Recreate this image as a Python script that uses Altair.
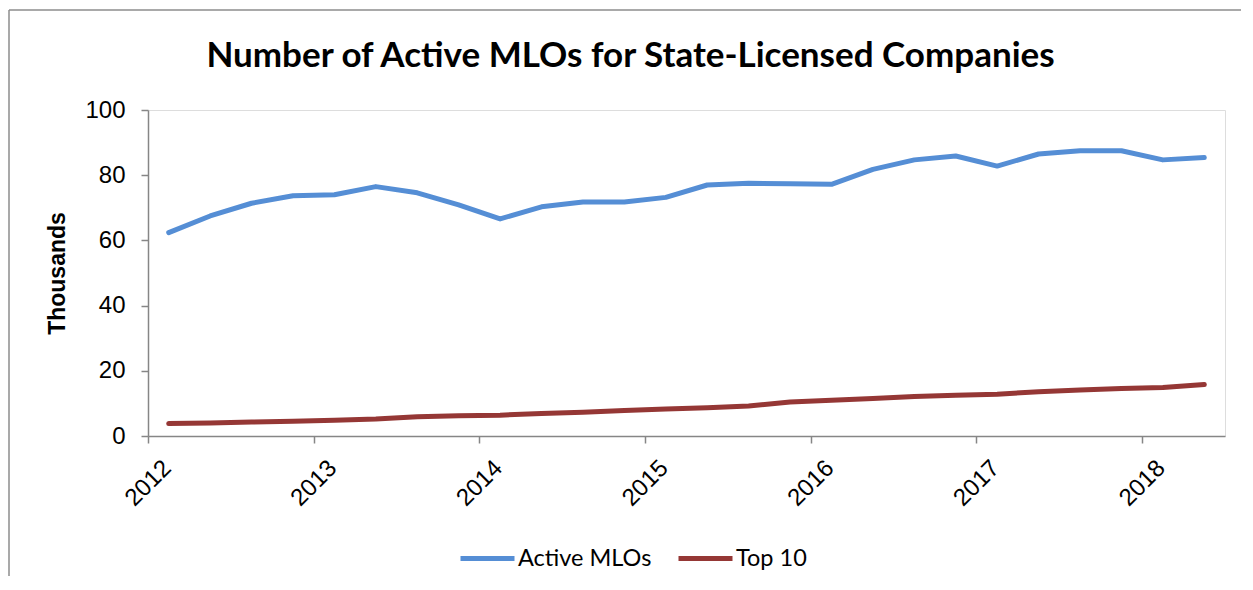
import altair as alt
import pandas as pd

# Quarterly data, 2012 Q1 .. 2018 Q2 (thousands)
quarters = [f"{y}Q{q}" for y in range(2012, 2019) for q in range(1, 5)][:26]
active_mlos = [62.4, 67.5, 71.4, 73.7, 74.0, 76.5, 74.6, 70.9, 66.6, 70.3,
               71.8, 71.8, 73.2, 77.0, 77.5, 77.4, 77.2, 81.8, 84.7, 85.9,
               82.8, 86.5, 87.5, 87.5, 84.7, 85.4]
top_10 = [3.8, 4.0, 4.3, 4.5, 4.8, 5.2, 5.9, 6.2, 6.4, 6.9,
          7.3, 7.8, 8.3, 8.7, 9.2, 10.4, 11.0, 11.5, 12.1, 12.5,
          12.8, 13.6, 14.1, 14.6, 14.9, 15.8]
series_names = ["Active MLOs", "Top 10"]
series_colors = ["#558ED5", "#953735"]
year_ticks = [0, 4, 8, 12, 16, 20, 24]
y_ticks = [0, 20, 40, 60, 80, 100]

rows = []
for i, q in enumerate(quarters):
    rows.append({"pos": i + 0.5, "quarter": q, "value": active_mlos[i], "series": series_names[0]})
    rows.append({"pos": i + 0.5, "quarter": q, "value": top_10[i], "series": series_names[1]})
df = pd.DataFrame(rows)

W, H = 1077, 326

lines = alt.Chart(df).mark_line(strokeWidth=5, strokeCap="round", strokeJoin="round").encode(
    x=alt.X("pos:Q",
            scale=alt.Scale(domain=[0, 26], nice=False, zero=False),
            axis=alt.Axis(values=year_ticks, labelExpr="toString(2012 + datum.value / 4)",
                          title=None, grid=False, domainColor="#868686", domainWidth=1.5,
                          tickColor="#868686", tickWidth=1.5, tickSize=7,
                          labelAngle=-45, labelAlign="center", labelBaseline="middle",
                          labelPadding=40, labelFont="Liberation Sans", labelFontSize=24,
                          labelColor="#000000", labelFlush=False, labelOverlap=False)),
    y=alt.Y("value:Q",
            scale=alt.Scale(domain=[0, 100], nice=False),
            axis=alt.Axis(values=y_ticks, title="Thousands", grid=False,
                          domainColor="#868686", domainWidth=1.5,
                          tickColor="#868686", tickWidth=1.5, tickSize=7,
                          labelPadding=16, labelFont="Liberation Sans", labelFontSize=24,
                          labelColor="#000000",
                          titleFont="Liberation Sans", titleFontSize=23, titleFontWeight="bold",
                          titleColor="#000000", titleAngle=-90, titleBaseline="middle",
                          titleX=-91, titleY=H / 2)),
    color=alt.Color("series:N",
                    scale=alt.Scale(domain=series_names, range=series_colors),
                    legend=alt.Legend(title=None, orient="none", direction="horizontal",
                                      legendX=310, legendY=419, padding=0,
                                      symbolType="stroke", symbolSize=2916,
                                      symbolStrokeWidth=5, labelOffset=1, columnPadding=16,
                                      labelFont="Lato", labelFontSize=23.5, labelColor="#000000")),
    detail="series:N",
)

frame_df = pd.DataFrame({"k": [0]})
frame_left = alt.Chart(frame_df).mark_rule(color="#8c8c8c", strokeWidth=1.5).encode(
    x=alt.value(-139), y=alt.value(-100), y2=alt.value(472))
frame_top = alt.Chart(frame_df).mark_rule(color="#8c8c8c", strokeWidth=1.5).encode(
    x=alt.value(-139), x2=alt.value(W + 16), y=alt.value(-100))

chart = alt.layer(frame_left, frame_top, lines).properties(
    width=W, height=H,
    title=alt.TitleParams("Number of Active MLOs for State-Licensed Companies",
                          font="Lato", fontSize=35, fontWeight="bold", color="#000000",
                          anchor="middle", frame="group", dx=-56, dy=93, offset=0,
                          baseline="alphabetic"),
    autosize=alt.AutoSizeParams(type="none"),
    padding={"left": 140, "top": 102, "right": 16, "bottom": 140},
).configure_view(stroke=None).configure(background="#ffffff")

chart.save("out.html", embed_options={"renderer": "svg", "actions": False})
